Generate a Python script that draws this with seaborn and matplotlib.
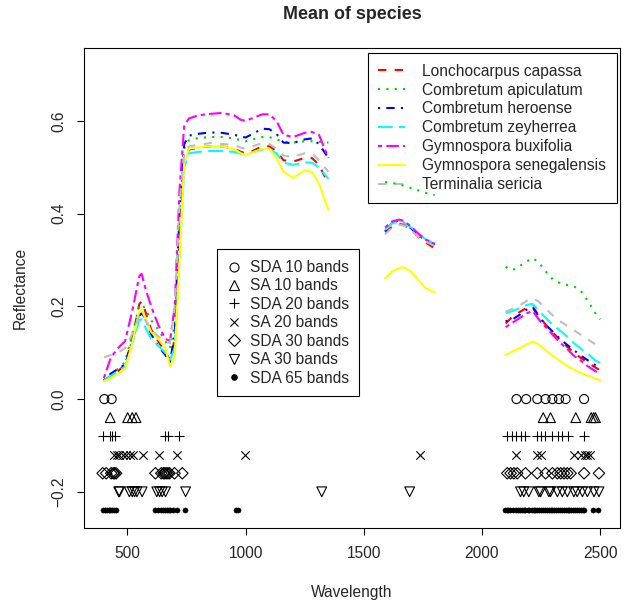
import numpy as np
import pandas as pd
import matplotlib
matplotlib.use("Agg")
import matplotlib.pyplot as plt
from matplotlib.lines import Line2D
import seaborn as sns

# ---------------- data ----------------
species = ["Lonchocarpus capassa", "Combretum apiculatum", "Combretum heroense",
           "Combretum zeyherrea", "Gymnospora buxifolia", "Gymnospora senegalensis",
           "Terminalia sericia"]

wl_vis = [400, 430, 460, 490, 520, 550, 560, 575, 600, 630, 660, 680, 700, 720, 740, 760,
          800, 850, 900, 950, 980, 1000, 1030, 1070, 1100, 1130, 1160, 1200, 1250, 1280, 1310, 1350]
wl_mid = [1590, 1620, 1650, 1670, 1700, 1730, 1760, 1800]
wl_swir = [2100, 2130, 2160, 2190, 2215, 2240, 2270, 2300, 2330, 2360, 2390, 2420, 2450, 2480, 2500]

lonchocarpus_vis = [0.040, 0.050, 0.060, 0.075, 0.130, 0.205, 0.210, 0.190, 0.150, 0.125, 0.100, 0.085, 0.130, 0.350, 0.510, 0.538,
                    0.542, 0.545, 0.545, 0.540, 0.533, 0.530, 0.535, 0.545, 0.545, 0.535, 0.515, 0.512, 0.520, 0.520, 0.505, 0.465]
apiculatum_vis = [0.040, 0.055, 0.065, 0.080, 0.140, 0.200, 0.205, 0.195, 0.170, 0.150, 0.125, 0.110, 0.160, 0.400, 0.540, 0.558,
                  0.563, 0.565, 0.565, 0.562, 0.558, 0.556, 0.560, 0.565, 0.565, 0.560, 0.555, 0.553, 0.556, 0.556, 0.555, 0.553]
heroense_vis = [0.040, 0.055, 0.065, 0.075, 0.125, 0.180, 0.185, 0.175, 0.140, 0.115, 0.095, 0.080, 0.140, 0.400, 0.550, 0.568,
                0.572, 0.575, 0.574, 0.570, 0.566, 0.564, 0.572, 0.583, 0.582, 0.572, 0.553, 0.552, 0.560, 0.562, 0.550, 0.520]
zeyherrea_vis = [0.040, 0.050, 0.060, 0.070, 0.120, 0.170, 0.172, 0.155, 0.130, 0.115, 0.100, 0.085, 0.110, 0.300, 0.500, 0.530,
                 0.533, 0.535, 0.535, 0.533, 0.529, 0.527, 0.532, 0.538, 0.538, 0.530, 0.510, 0.505, 0.510, 0.510, 0.500, 0.475]
buxifolia_vis = [0.045, 0.090, 0.110, 0.125, 0.190, 0.265, 0.270, 0.240, 0.200, 0.160, 0.130, 0.125, 0.200, 0.450, 0.590, 0.605,
                 0.612, 0.615, 0.617, 0.612, 0.602, 0.600, 0.606, 0.614, 0.614, 0.600, 0.570, 0.565, 0.574, 0.576, 0.570, 0.520]
senegalensis_vis = [0.038, 0.045, 0.055, 0.065, 0.120, 0.190, 0.192, 0.175, 0.145, 0.130, 0.110, 0.070, 0.090, 0.300, 0.510, 0.540,
                    0.543, 0.545, 0.545, 0.540, 0.530, 0.526, 0.532, 0.540, 0.540, 0.520, 0.490, 0.477, 0.493, 0.490, 0.465, 0.408]
terminalia_vis = [0.090, 0.095, 0.100, 0.110, 0.140, 0.180, 0.182, 0.170, 0.150, 0.135, 0.125, 0.120, 0.200, 0.420, 0.530, 0.545,
                  0.548, 0.552, 0.550, 0.548, 0.542, 0.540, 0.545, 0.552, 0.550, 0.540, 0.525, 0.522, 0.530, 0.530, 0.515, 0.490]

lonchocarpus_mid = [0.360, 0.372, 0.378, 0.375, 0.365, 0.350, 0.338, 0.325]
apiculatum_mid = [0.468, 0.466, 0.463, 0.460, 0.455, 0.450, 0.445, 0.440]
heroense_mid = [0.362, 0.380, 0.386, 0.380, 0.368, 0.354, 0.343, 0.333]
zeyherrea_mid = [0.365, 0.380, 0.383, 0.380, 0.370, 0.358, 0.345, 0.335]
buxifolia_mid = [0.370, 0.383, 0.387, 0.384, 0.372, 0.357, 0.344, 0.335]
senegalensis_mid = [0.260, 0.275, 0.283, 0.284, 0.275, 0.257, 0.240, 0.230]
terminalia_mid = [0.355, 0.370, 0.376, 0.374, 0.364, 0.350, 0.340, 0.330]

lonchocarpus_swir = [0.163, 0.178, 0.188, 0.197, 0.200, 0.180, 0.160, 0.143, 0.128, 0.113, 0.100, 0.088, 0.078, 0.068, 0.062]
apiculatum_swir = [0.285, 0.278, 0.287, 0.297, 0.304, 0.295, 0.275, 0.258, 0.250, 0.246, 0.243, 0.232, 0.210, 0.185, 0.172]
heroense_swir = [0.168, 0.172, 0.182, 0.193, 0.197, 0.178, 0.160, 0.145, 0.130, 0.117, 0.105, 0.093, 0.083, 0.073, 0.070]
zeyherrea_swir = [0.185, 0.190, 0.196, 0.203, 0.205, 0.190, 0.175, 0.160, 0.148, 0.135, 0.120, 0.108, 0.097, 0.083, 0.078]
buxifolia_swir = [0.155, 0.165, 0.175, 0.185, 0.190, 0.172, 0.155, 0.138, 0.122, 0.108, 0.093, 0.082, 0.070, 0.060, 0.055]
senegalensis_swir = [0.095, 0.103, 0.110, 0.118, 0.124, 0.118, 0.105, 0.093, 0.082, 0.072, 0.063, 0.056, 0.050, 0.044, 0.041]
terminalia_swir = [0.188, 0.195, 0.202, 0.212, 0.218, 0.210, 0.195, 0.180, 0.168, 0.158, 0.148, 0.138, 0.128, 0.118, 0.112]

band_sets = ["SDA 10 bands", "SA 10 bands", "SDA 20 bands", "SA 20 bands",
             "SDA 30 bands", "SA 30 bands", "SDA 65 bands"]
band_rows = [0.0, -0.04, -0.08, -0.12, -0.16, -0.20, -0.24]
sda10_wl = [402, 433, 2146, 2187, 2234, 2269, 2298, 2326, 2354, 2432]
sa10_wl = [427, 501, 520, 536, 2259, 2290, 2397, 2462, 2472, 2480]
sda20_wl = [395, 424, 436, 446, 658, 672, 720, 2107, 2125, 2142, 2163, 2184, 2234, 2250, 2265,
            2298, 2320, 2340, 2362, 2432]
sa20_wl = [445, 455, 465, 480, 494, 511, 525, 566, 632, 709, 996, 1739, 2142, 2234, 2248,
           2389, 2418, 2435, 2446, 2458]
sda30_wl = [395, 410, 431, 440, 445, 452, 618, 643, 652, 657, 664, 671, 678, 699, 732,
            2107, 2121, 2135, 2149, 2184, 2234, 2269, 2298, 2319, 2333, 2347, 2361, 2375, 2432, 2495]
sa30_wl = [463, 466, 508, 520, 530, 540, 562, 624, 636, 647, 661, 746, 1322, 1694,
           2163, 2177, 2198, 2241, 2248, 2283, 2290, 2319, 2340, 2361, 2389, 2403, 2425, 2446, 2474, 2495]
sda65_wl = [398, 405, 412, 420, 428, 436, 444, 452, 618, 630, 642, 650, 658, 666, 674, 682, 692, 708,
            742, 960, 967,
            2096, 2104, 2112, 2120, 2130, 2142, 2152, 2160, 2168, 2176, 2184, 2193, 2201, 2210, 2218,
            2226, 2234, 2242, 2250, 2258, 2266, 2274, 2282, 2290, 2298, 2306, 2314, 2322, 2330, 2338,
            2346, 2354, 2362, 2370, 2378, 2386, 2394, 2402, 2410, 2418, 2426, 2432, 2470, 2490]

# ---------------- style ----------------
sns.set_theme(style="ticks")
plt.rcParams["font.family"] = ["Liberation Sans", "DejaVu Sans"]
plt.rcParams["axes.linewidth"] = 0.8
FS = 11.2

fig = plt.figure(figsize=(6.31, 6.09), dpi=100)
ax = fig.add_axes([84 / 631, 1 - 528 / 609, 536 / 631, 480 / 609])

colors = ["#FF0000", "#00CD00", "#0000FF", "#00FFFF", "#FF00FF", "#FFFF00", "#BEBEBE"]
styles = [(0, (4, 4)), (0, (1, 3)), (0, (1, 3, 4, 3)), (0, (7, 3)),
          (0, (2, 2, 6, 2)), "-", (0, (4, 4))]

vis = [lonchocarpus_vis, apiculatum_vis, heroense_vis, zeyherrea_vis, buxifolia_vis,
       senegalensis_vis, terminalia_vis]
mid = [lonchocarpus_mid, apiculatum_mid, heroense_mid, zeyherrea_mid, buxifolia_mid,
       senegalensis_mid, terminalia_mid]
swir = [lonchocarpus_swir, apiculatum_swir, heroense_swir, zeyherrea_swir, buxifolia_swir,
        senegalensis_swir, terminalia_swir]

for i, sp in enumerate(species):
    for region, (wl, vals) in enumerate([(wl_vis, vis[i]), (wl_mid, mid[i]), (wl_swir, swir[i])]):
        df = pd.DataFrame({"wl": wl, "refl": vals})
        z = 6 if (region == 1 and i == 1) else 2
        sns.lineplot(data=df, x="wl", y="refl", ax=ax, color=colors[i], linestyle=styles[i],
                     linewidth=1.5, errorbar=None, estimator=None, sort=False,
                     legend=False, zorder=z)

markers = ["o", "^", "+", "x", "D", "v", "o"]
msizes = [42, 50, 60, 36, 34, 50, 14]
band_wls = [sda10_wl, sa10_wl, sda20_wl, sa20_wl, sda30_wl, sa30_wl, sda65_wl]
for j, (wls, row) in enumerate(zip(band_wls, band_rows)):
    ys = [row] * len(wls)
    m = markers[j]
    if m in ("+", "x"):
        sns.scatterplot(x=wls, y=ys, ax=ax, marker=m, s=msizes[j], color="black",
                        linewidth=0.8, legend=False)
    elif j == 6:
        sns.scatterplot(x=wls, y=ys, ax=ax, marker=m, s=msizes[j], color="black",
                        edgecolor="black", linewidth=0.3, legend=False)
    else:
        sns.scatterplot(x=wls, y=ys, ax=ax, marker=m, s=msizes[j], facecolor="none",
                        edgecolor="black", linewidth=0.8, legend=False)

ax.set_xlim(316, 2584)
ax.set_ylim(-0.278, 0.757)
ax.set_xticks([500, 1000, 1500, 2000, 2500])
ax.set_yticks([-0.2, 0.0, 0.2, 0.4, 0.6])
ax.set_yticklabels(["\u22120.2", "0.0", "0.2", "0.4", "0.6"])
ax.tick_params(axis="both", direction="out", length=5, width=0.8, labelsize=FS, color="black")
ax.tick_params(axis="x", pad=8)
ax.tick_params(axis="y", pad=8)
for lab in ax.get_yticklabels():
    lab.set_rotation(90)
    lab.set_va("center")
for s in ax.spines.values():
    s.set_visible(True)
    s.set_color("black")
    s.set_linewidth(0.8)

ax.set_xlabel("Wavelength", fontsize=FS, labelpad=17)
ax.set_ylabel("Reflectance", fontsize=FS, labelpad=17)
fig.text(352 / 631, 1 - 14.5 / 609, "Mean of species", ha="center", va="center",
         fontsize=12.9, fontweight="bold")

# legends
line_handles = [Line2D([0], [0], color=c, linestyle=st, linewidth=1.5) for c, st in zip(colors, styles)]
leg1 = ax.legend(line_handles, species, loc="upper right", bbox_to_anchor=(0.994, 0.99),
                 borderaxespad=0, fontsize=FS, frameon=True, fancybox=False, framealpha=1,
                 edgecolor="black", handlelength=1.7, labelspacing=0.25, borderpad=0.7,
                 handletextpad=1.1)
leg1.get_frame().set_linewidth(0.8)
leg1.set_zorder(5)
ax.add_artist(leg1)

mk_handles = []
for j, m in enumerate(markers):
    if j == 6:
        h = Line2D([0], [0], marker="o", linestyle="none", color="black", markersize=np.sqrt(msizes[j]))
    elif m in ("+", "x"):
        h = Line2D([0], [0], marker=m, linestyle="none", color="black",
                   markersize=np.sqrt(msizes[j]), markeredgewidth=0.8)
    else:
        h = Line2D([0], [0], marker=m, linestyle="none", markerfacecolor="none",
                   markeredgecolor="black", markersize=np.sqrt(msizes[j]), markeredgewidth=0.8)
    mk_handles.append(h)
leg2 = ax.legend(mk_handles, band_sets, loc="upper left", bbox_to_anchor=(0.248, 0.581),
                 borderaxespad=0, fontsize=FS, frameon=True, fancybox=False, framealpha=1,
                 edgecolor="black", handlelength=0.8, labelspacing=0.22, borderpad=0.7,
                 handletextpad=0.6)
leg2.get_frame().set_linewidth(0.8)

fig.savefig("out.png", dpi=100)
